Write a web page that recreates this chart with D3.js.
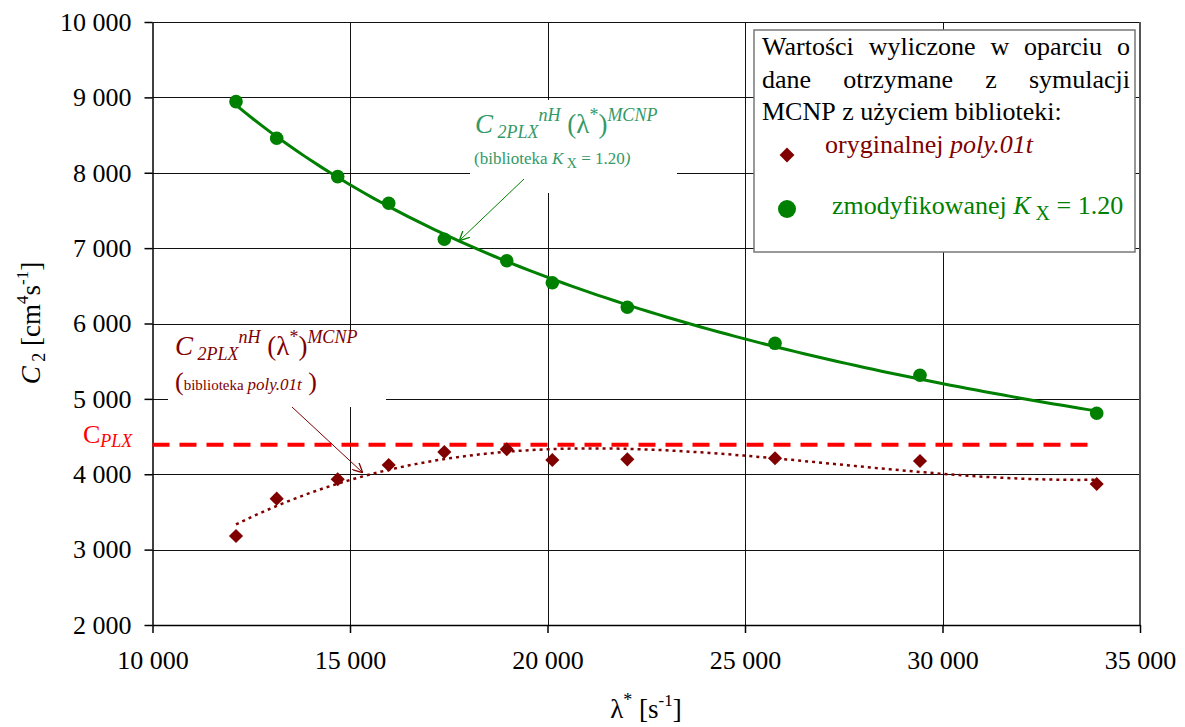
<!DOCTYPE html>
<html>
<head>
<meta charset="utf-8">
<script src="https://cdn.jsdelivr.net/npm/d3@7"></script>
<style>
  body { margin: 0; background: #fff; }
  svg { display: block; font-family: "Liberation Serif", "Times New Roman", serif; }
  svg text { font-family: "Liberation Serif", "Times New Roman", serif; }
</style>
</head>
<body>
<svg id="chart" width="1185" height="727"></svg>
<script>
// data
const lambda = [12114, 13144, 14689, 15980, 17388, 18968, 20122, 22021, 25760, 29430, 33904];
const cModified = [8943, 8457, 7948, 7595, 7117, 6833, 6541, 6215, 5737, 5313, 4809];
const cOriginal = [3181, 3676, 3933, 4123, 4295, 4331, 4189, 4198, 4212, 4176, 3871];
const cPlx = 4390;
const xTicks = [10000, 15000, 20000, 25000, 30000, 35000];
const yTicks = [2000, 3000, 4000, 5000, 6000, 7000, 8000, 9000, 10000];
const legendHead = ["Wartości wyliczone w oparciu o", "dane otrzymane z symulacji", "MCNP z użyciem biblioteki:"];

const dark = "#800000", green = "#008000", lightGreen = "#339966", red = "#ff0000";

const svg = d3.select('#chart');
const x = d3.scaleLinear().domain([10000, 35000]).range([152.5, 1140]);
const y = d3.scaleLinear().domain([2000, 10000]).range([625, 22]);

const fmt = d3.formatLocale({ decimal: ".", thousands: " ", grouping: [3], currency: ["", ""] }).format(",");

// rich text helper: parts with absolute baseline offset (off) from text baseline
function rich(sel, parts) {
    let cur = 0;
    parts.forEach(p => {
        const off = p.off || 0;
        sel.append('tspan')
            .attr('dy', off - cur)
            .style('font-size', p.size + 'px')
            .style('font-style', p.it ? 'italic' : 'normal')
            .text(p.t);
        cur = off;
    });
}

// grid
svg.append('g').selectAll('line').data(yTicks.slice(1)).enter().append('line')
    .attr('x1', x(10000)).attr('x2', x(35000))
    .attr('y1', d => Math.round(y(d)) + 0.5).attr('y2', d => Math.round(y(d)) + 0.5)
    .style('stroke', '#111').style('stroke-width', 1);
svg.append('g').selectAll('line').data(xTicks.slice(1)).enter().append('line')
    .attr('y1', y(10000)).attr('y2', y(2000))
    .attr('x1', d => Math.round(x(d)) + 0.5).attr('x2', d => Math.round(x(d)) + 0.5)
    .style('stroke', '#111').style('stroke-width', 1);
svg.append('line').attr('x1', x(35000)).attr('x2', x(35000)).attr('y1', y(10000)).attr('y2', y(2000))
    .style('stroke', '#555').style('stroke-width', 2);

// axes
const yAxis = svg.append('g').attr('transform', `translate(${x(10000)},0)`)
    .call(d3.axisLeft(y).tickValues(yTicks).tickSize(8).tickSizeOuter(0).tickPadding(13).tickFormat(fmt));
const xAxis = svg.append('g').attr('transform', `translate(0,${y(2000)})`)
    .call(d3.axisBottom(x).tickValues(xTicks).tickSize(8).tickSizeOuter(0).tickPadding(18).tickFormat(fmt));
[xAxis, yAxis].forEach(a => {
    a.attr('font-family', null).attr('font-size', null);
    a.selectAll('path,line').style('stroke', '#000').style('stroke-width', 1.5);
    a.selectAll('text').style('font-size', '26px').style('fill', '#000');
});

// white label boxes
svg.append('rect').attr('x', 470).attr('y', 100).attr('width', 207).attr('height', 93).style('fill', '#fff');
svg.append('rect').attr('x', 168).attr('y', 330).attr('width', 218).attr('height', 77).style('fill', '#fff');

// fits
function polyfit(xs, ys, order) {
    const n = order + 1;
    const A = Array.from({ length: n }, () => new Array(n + 1).fill(0));
    xs.forEach((xv, i) => {
        const t = (xv - 22000) / 10000;
        for (let r = 0; r < n; r++) {
            for (let c = 0; c < n; c++) A[r][c] += Math.pow(t, r + c);
            A[r][n] += ys[i] * Math.pow(t, r);
        }
    });
    for (let i = 0; i < n; i++) {
        for (let k = i + 1; k < n; k++) {
            const f = A[k][i] / A[i][i];
            for (let j = i; j <= n; j++) A[k][j] -= f * A[i][j];
        }
    }
    const c = new Array(n).fill(0);
    for (let i = n - 1; i >= 0; i--) {
        let s = A[i][n];
        for (let j = i + 1; j < n; j++) s -= A[i][j] * c[j];
        c[i] = s / A[i][i];
    }
    return v => { const t = (v - 22000) / 10000; return c.reduce((s, ci, i) => s + ci * Math.pow(t, i), 0); };
}
function powerfit(xs, ys) {
    const lx = xs.map(Math.log), ly = ys.map(Math.log);
    const mx = d3.mean(lx), my = d3.mean(ly);
    const b = d3.sum(lx, (v, i) => (v - mx) * (ly[i] - my)) / d3.sum(lx, v => (v - mx) * (v - mx));
    const a = Math.exp(my - b * mx);
    return v => a * Math.pow(v, b);
}
const fitG = powerfit(lambda, cModified);
const fitR = polyfit(lambda, cOriginal, 3);
const xs = d3.range(0, 101).map(i => lambda[0] + (lambda[lambda.length - 1] - lambda[0]) * i / 100);
const line = d3.line().x(d => x(d[0])).y(d => y(d[1])).curve(d3.curveLinear);

// C_PLX dashed line
svg.append('line').attr('x1', x(10000)).attr('x2', x(d3.max(lambda)))
    .attr('y1', y(cPlx)).attr('y2', y(cPlx))
    .style('stroke', red).style('stroke-width', 4).style('stroke-dasharray', '17,10');

svg.append('path').attr('d', line(xs.map(v => [v, fitR(v)])))
    .style('fill', 'none').style('stroke', dark).style('stroke-width', 2.5).style('stroke-dasharray', '3,4');
svg.append('path').attr('d', line(xs.map(v => [v, fitG(v)])))
    .style('fill', 'none').style('stroke', green).style('stroke-width', 3);

// markers
svg.append('g').selectAll('path').data(lambda).enter().append('path')
    .attr('d', d3.symbol(d3.symbolSquare, 100))
    .attr('transform', (d, i) => `translate(${x(d)},${y(cOriginal[i])}) rotate(45)`)
    .style('fill', dark);
svg.append('g').selectAll('circle').data(lambda).enter().append('circle')
    .attr('cx', d => x(d)).attr('cy', (d, i) => y(cModified[i])).attr('r', 6.8)
    .style('fill', green);

// arrows
const defs = svg.append('defs');
[['arrG', green], ['arrR', dark]].forEach(([id, col]) => {
    defs.append('marker').attr('id', id).attr('viewBox', '0 0 10 10').attr('refX', 9).attr('refY', 5)
        .attr('markerWidth', 10).attr('markerHeight', 10).attr('markerUnits', 'userSpaceOnUse').attr('orient', 'auto')
        .append('path').attr('d', 'M0,0 L10,5 L0,10').style('fill', 'none').style('stroke', col).style('stroke-width', 1.3);
});
svg.append('line').attr('x1', 524).attr('y1', 179).attr('x2', 460).attr('y2', 240)
    .style('stroke', green).style('stroke-width', 1).attr('marker-end', 'url(#arrG)');
svg.append('line').attr('x1', 292).attr('y1', 407).attr('x2', 362).attr('y2', 472)
    .style('stroke', dark).style('stroke-width', 1).attr('marker-end', 'url(#arrR)');

// annotation texts
const formula = [
    { t: 'C', size: 27, it: true },
    { t: ' 2PLX', size: 18, it: true, off: 5 },
    { t: 'nH', size: 18, it: true, off: -12 },
    { t: ' (λ', size: 27, off: 0 },
    { t: '*', size: 18, off: -12 },
    { t: ')', size: 27, off: 0 },
    { t: 'MCNP', size: 18, it: true, off: -12 }
];
rich(svg.append('text').attr('x', 475).attr('y', 133).style('fill', lightGreen), formula);
rich(svg.append('text').attr('x', 474).attr('y', 164).style('fill', lightGreen), [
    { t: '(biblioteka ', size: 17 },
    { t: 'K', size: 17, it: true },
    { t: ' X', size: 14, off: 4 },
    { t: ' = 1.20', size: 17, off: 0 },
    { t: ')', size: 17, it: true }
]);
rich(svg.append('text').attr('x', 175).attr('y', 355).style('fill', dark), formula);
rich(svg.append('text').attr('x', 175).attr('y', 390).style('fill', dark), [
    { t: '(', size: 26 },
    { t: 'biblioteka ', size: 15 },
    { t: 'poly.01t', size: 17, it: true },
    { t: ' )', size: 26 }
]);

// C_PLX label
rich(svg.append('text').attr('x', 83).attr('y', 443).style('fill', red), [
    { t: 'C', size: 26 },
    { t: 'PLX', size: 18, it: true, off: 4 }
]);

// axis titles
rich(svg.append('text').attr('x', 646).attr('y', 718).attr('text-anchor', 'middle').style('fill', '#000'), [
    { t: 'λ', size: 27 },
    { t: '*', size: 18, off: -12 },
    { t: ' [s', size: 27, off: 0 },
    { t: '-1', size: 17, off: -12 },
    { t: ']', size: 27, off: 0 }
]);
rich(svg.append('text').attr('transform', 'translate(40,323) rotate(-90)').attr('text-anchor', 'middle').style('fill', '#000'), [
    { t: 'C', size: 27, it: true },
    { t: ' 2', size: 18, off: 5 },
    { t: ' [cm', size: 27, off: 0 },
    { t: '4', size: 17, off: -12 },
    { t: 's', size: 27, off: 0 },
    { t: '-1', size: 17, off: -12 },
    { t: ']', size: 27, off: 0 }
]);

// legend
const lg = svg.append('g');
lg.append('rect').attr('x', 754).attr('y', 30).attr('width', 381).attr('height', 222)
    .style('fill', '#fff').style('stroke', '#777').style('stroke-width', 1.5);
legendHead.forEach((ln, li) => {
    const words = ln.split(' ');
    const base = 55 + li * 32.5;
    const ts = words.map(w => lg.append('text').attr('y', base).style('font-size', '26px').style('fill', '#000').text(w));
    const widths = ts.map(t => t.node().getComputedTextLength());
    const justify = li < legendHead.length - 1;
    const gap = justify ? (1130 - 762 - d3.sum(widths)) / (words.length - 1) : 6.5;
    let cx = 762;
    ts.forEach((t, i) => { t.attr('x', cx); cx += widths[i] + gap; });
});
lg.append('path').attr('d', d3.symbol(d3.symbolSquare, 110))
    .attr('transform', 'translate(787,155) rotate(45)').style('fill', dark);
rich(lg.append('text').attr('x', 825).attr('y', 153).style('fill', dark), [
    { t: 'oryginalnej ', size: 26 },
    { t: 'poly.01t', size: 26, it: true }
]);
lg.append('circle').attr('cx', 787).attr('cy', 209).attr('r', 9).style('fill', green);
rich(lg.append('text').attr('x', 832).attr('y', 214).style('fill', green), [
    { t: 'zmodyfikowanej ', size: 26 },
    { t: 'K', size: 26, it: true },
    { t: ' X', size: 20, off: 6 },
    { t: ' = 1.20', size: 26, off: 0 }
]);
</script>
</body>
</html>
